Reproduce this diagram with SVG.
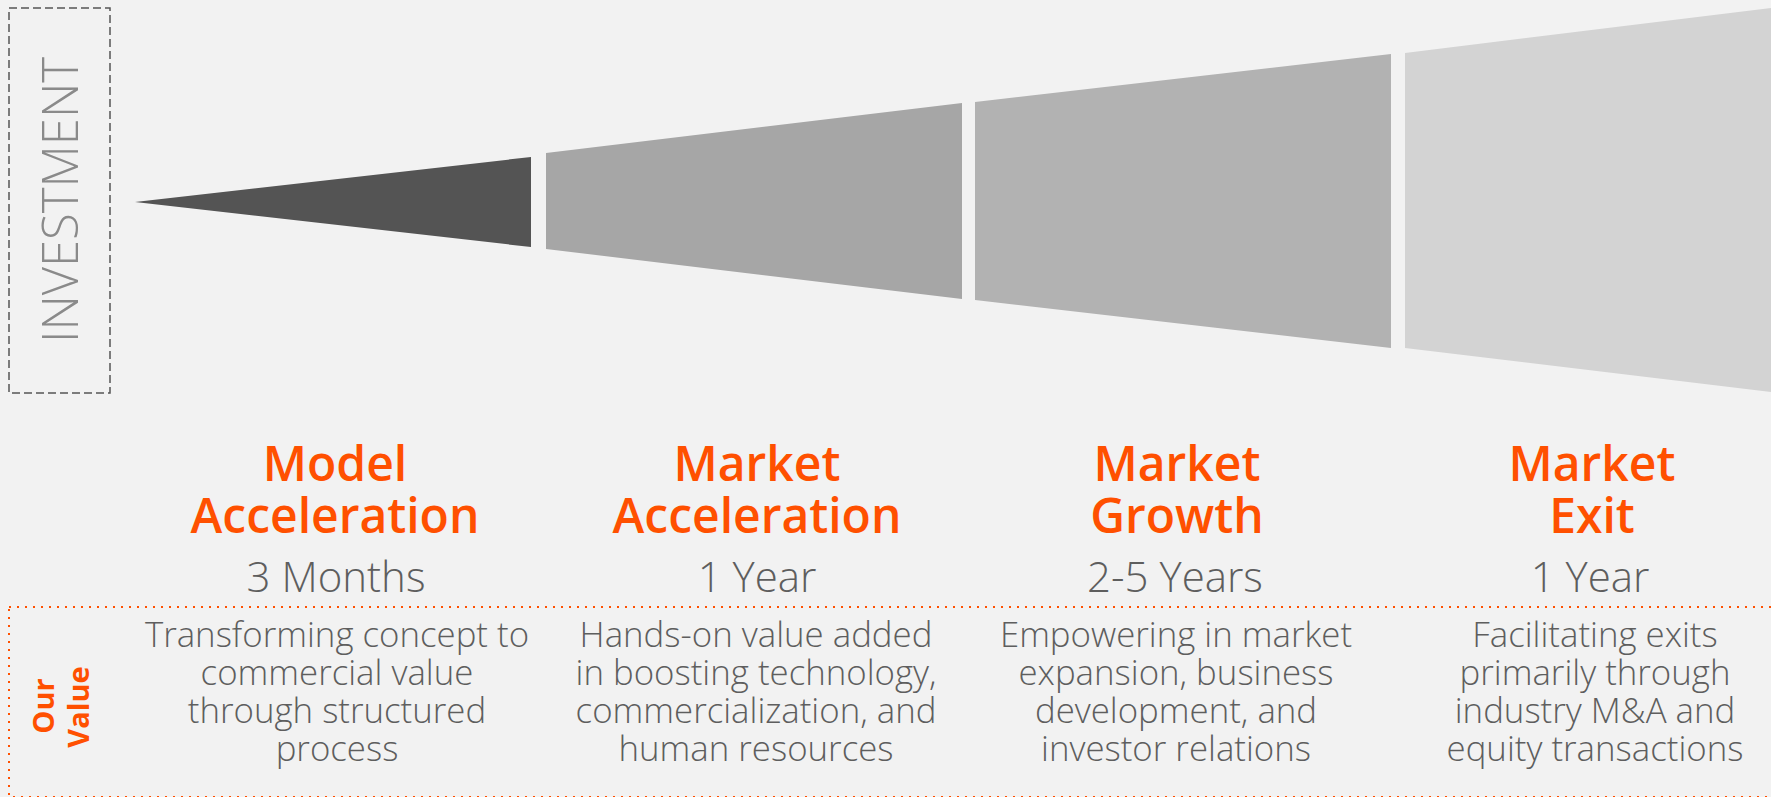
<svg xmlns="http://www.w3.org/2000/svg" width="1771" height="797" viewBox="0 0 1771 797">
  <style>
    .title { font-family: "Open Sans", "Liberation Sans", sans-serif; font-weight: 600; font-size: 48px; fill: #ff5000; text-anchor: middle; }
    .dur { font-family: "Open Sans", "Liberation Sans", sans-serif; font-weight: 300; font-size: 42px; fill: #5e5e5e; text-anchor: middle; }
    .desc { font-family: "Open Sans", "Liberation Sans", sans-serif; font-weight: 300; font-size: 34.8px; fill: #5e5e5e; text-anchor: middle; }
    .side { font-family: "Open Sans", "Liberation Sans", sans-serif; font-weight: 700; font-size: 29px; fill: #ff5000; text-anchor: middle; }
    .inv { font-family: "Open Sans", "Liberation Sans", sans-serif; font-weight: 300; font-size: 49px; fill: #8a8a8a; text-anchor: middle; }
  </style>
  <rect x="0" y="0" width="1771" height="797" fill="#f2f2f2"/>

  <g id="investment-label">
    <rect x="9" y="8" width="101" height="385" fill="none" stroke="#555555" stroke-width="1.5" stroke-dasharray="8 4"/>
    <text class="inv" transform="translate(78,200) rotate(-90)" x="0" y="0">INVESTMENT</text>
  </g>

  <g id="our-value-frame">
    <rect x="9" y="607" width="1800" height="190" fill="none" stroke="#ff5000" stroke-width="2" stroke-dasharray="2 6"/>
    <text class="side" transform="translate(54,706) rotate(-90)" x="0" y="0">Our</text>
    <text class="side" transform="translate(89,707) rotate(-90)" x="0" y="0">Value</text>
  </g>

  <g id="stage-model-acceleration">
    <polygon points="135,202 531,157 531,247" fill="#545454"/>
    <text class="title" x="335" y="481">Model</text>
    <text class="title" x="335" y="533">Acceleration</text>
    <text class="dur" x="336" y="592">3 Months</text>
    <text class="desc" x="337" y="647">Transforming concept to</text>
    <text class="desc" x="337" y="685">commercial value</text>
    <text class="desc" x="337" y="723">through structured</text>
    <text class="desc" x="337" y="761">process</text>
  </g>

  <g id="stage-market-acceleration">
    <polygon points="546,153 962,103 962,299 546,249" fill="#a6a6a6"/>
    <text class="title" x="757" y="481">Market</text>
    <text class="title" x="757" y="533">Acceleration</text>
    <text class="dur" x="757" y="592">1 Year</text>
    <text class="desc" x="756" y="647">Hands-on value added</text>
    <text class="desc" x="756" y="685">in boosting technology,</text>
    <text class="desc" x="756" y="723">commercialization, and</text>
    <text class="desc" x="756" y="761">human resources</text>
  </g>

  <g id="stage-market-growth">
    <polygon points="975,102 1391,54 1391,348 975,300" fill="#b2b2b2"/>
    <text class="title" x="1177" y="481">Market</text>
    <text class="title" x="1177" y="533">Growth</text>
    <text class="dur" x="1175" y="592">2-5 Years</text>
    <text class="desc" x="1176" y="647">Empowering in market</text>
    <text class="desc" x="1176" y="685">expansion, business</text>
    <text class="desc" x="1176" y="723">development, and</text>
    <text class="desc" x="1176" y="761">investor relations</text>
  </g>

  <g id="stage-market-exit">
    <polygon points="1405,53 1771,8 1771,392 1405,348" fill="#d3d3d3"/>
    <text class="title" x="1592" y="481">Market</text>
    <text class="title" x="1592" y="533">Exit</text>
    <text class="dur" x="1590" y="592">1 Year</text>
    <text class="desc" x="1595" y="647">Facilitating exits</text>
    <text class="desc" x="1595" y="685">primarily through</text>
    <text class="desc" x="1595" y="723">industry M&amp;A and</text>
    <text class="desc" x="1595" y="761">equity transactions</text>
  </g>

  <g id="connectors"></g>
</svg>
